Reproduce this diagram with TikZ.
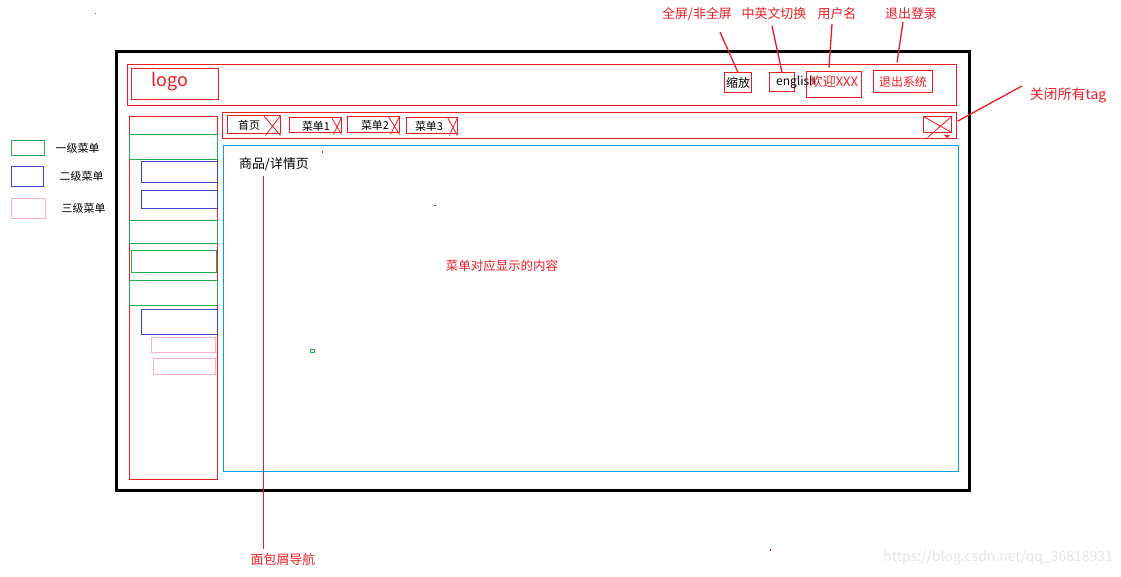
\documentclass[tikz,border=0pt]{standalone}
\usepackage{fontspec}
\setmainfont{Noto Sans CJK SC}
\usetikzlibrary{positioning}
\definecolor{pred}{HTML}{ED1C24}
\definecolor{pgreen}{HTML}{22B14C}
\definecolor{pblue}{HTML}{3F48CC}
\definecolor{ppink}{HTML}{FFAEC9}
\definecolor{pcyan}{HTML}{00A2E8}

\begin{document}
\begin{tikzpicture}[x=1bp,y=-1bp,
  box/.style={draw,anchor=north west,inner sep=0pt,outer sep=0pt,line width=1bp},
  redbox/.style={box,draw=pred},
  lvone/.style={box,draw=pgreen},
  lvtwo/.style={box,draw=pblue},
  lvthree/.style={box,draw=ppink},
  txt/.style={inner sep=0pt,font=\fontsize{12}{14}\selectfont},
  note/.style={txt,text=pred,font=\fontsize{13}{15}\selectfont},
  lead/.style={draw=pred,line width=1.3bp}]

  \useasboundingbox (0,0) rectangle (1121,577);

  % outer frame and header
  \node[box,line width=3bp,minimum width=853bp,minimum height=438bp] (frame) at (116,52) {};
  \node[redbox,minimum width=829bp,minimum height=41bp] (header) at (127.5,64.5) {};
  \node[redbox,minimum width=87bp,minimum height=31bp] (logo) at (131.5,68.5) {};
  \node[txt,text=pred,font=\fontsize{18}{20}\selectfont] (logotext) at (170,82) {logo};

  \node[redbox,minimum width=27bp,minimum height=20bp] (zoom) at (724.5,72.5) {};
  \node[txt] (zoomtext) at (zoom.center) {缩放};
  \node[redbox,minimum width=25bp,minimum height=19bp] (lang) at (769.5,72.5) {};
  \node[txt,anchor=west] (langtext) at (776,82) {english};
  \node[redbox,minimum width=55bp,minimum height=26bp] (welcome) at (806.5,71.5) {};
  \node[txt,text=pred,font=\fontsize{13}{15}\selectfont] (welcometext) at (834,82) {欢迎XXX};
  \node[redbox,minimum width=59bp,minimum height=22bp] (logout) at (873.5,70.5) {};
  \node[txt,text=pred] (logouttext) at (logout.center) {退出系统};

  % notes above the header
  \node[note] (fullscr) at (697,14) {全屏/非全屏};
  \node[note] (langsw) at (774,14) {中英文切换};
  \node[note] (user) at (837,14) {用户名};
  \node[note] (exit) at (911,14) {退出登录};
  \coordinate (fullscr-tip) at (720,32);
  \coordinate (langsw-tip) at (772,26);
  \coordinate (user-tip) at (832,24);
  \coordinate (exit-tip) at (903,22);
  \draw[lead] (fullscr-tip) -- (zoom.north);
  \draw[lead] (langsw-tip) -- (lang.north);
  \draw[lead] (user-tip) -- ([xshift=-5bp,yshift=4bp]welcome.north);
  \draw[lead] (exit-tip) -- ([xshift=-6bp,yshift=8bp]logout.north);

  % tag bar
  \node[redbox,minimum width=734bp,minimum height=26bp] (tagbar) at (222.5,112.5) {};
  \foreach \n/\x/\y/\w/\h/\t/\tx/\c in {tag0/227.5/115.5/53/18/首页/249/17,
      tag1/289.5/117.5/52/15/菜单1/316/10,
      tag2/347.5/116.5/52/16/菜单2/375/11,
      tag3/406.5/117.5/51/16/菜单3/429/10}{
    \node[redbox,minimum width=\w bp,minimum height=\h bp] (\n) at (\x,\y) {};
    \node[txt,font=\fontsize{11}{13}\selectfont] (\n-text) at (\tx,\y+\h/2+1) {\t};
    \draw[pred,line width=0.8bp] ([xshift=-\c bp]\n.north east) -- ([yshift=-2bp]\n.south east)
      (\n.north east) -- ([xshift=-\c bp+2bp,yshift=-2bp]\n.south east);
  }
  \node[redbox,minimum width=28bp,minimum height=16bp] (closeall) at (923.5,116.5) {};
  \draw[pred,line width=0.8bp] (closeall.north west) -- (closeall.south east)
    (closeall.north east) -- ([xshift=4bp,yshift=-5bp]closeall.south west);
  \fill[pred] (944,135) -- (950,135) -- (947,138) -- cycle;
  \node[note,font=\fontsize{14}{16}\selectfont] (closenote) at (1068,95) {关闭所有tag};
  \coordinate (closenote-tip) at (1022,86);
  \draw[lead,shorten <=7bp] (closeall.east) -- (closenote-tip);

  % side menu
  \node[redbox,minimum width=88bp,minimum height=363bp] (side) at (129.5,116.5) {};
  \foreach \n/\x/\y/\w/\h in {one1/129.5/134.5/88/25, one2/129.5/220.5/88/23,
      one3/131.5/250.5/85/22, one4/129.5/280.5/88/25}
    \node[lvone,minimum width=\w bp,minimum height=\h bp] (\n) at (\x,\y) {};
  \foreach \n/\x/\y/\w/\h in {two1/141.5/161.5/76/21, two2/141.5/190.5/76/18, two3/141.5/309.5/76/25}
    \node[lvtwo,minimum width=\w bp,minimum height=\h bp] (\n) at (\x,\y) {};
  \foreach \n/\x/\y/\w/\h in {three1/151.5/337.5/64/15, three2/153.5/358.5/62/16}
    \node[lvthree,minimum width=\w bp,minimum height=\h bp] (\n) at (\x,\y) {};

  % legend
  \node[lvone,minimum width=33bp,minimum height=15bp] (keyone) at (11.5,140.5) {};
  \node[txt,font=\fontsize{11}{13}\selectfont,right=11bp of keyone] (keyonetext) {一级菜单};
  \node[lvtwo,minimum width=32bp,minimum height=20bp] (keytwo) at (11.5,166.5) {};
  \node[txt,font=\fontsize{11}{13}\selectfont,right=16bp of keytwo] (keytwotext) {二级菜单};
  \node[lvthree,minimum width=34bp,minimum height=20bp] (keythree) at (11.5,198.5) {};
  \node[txt,font=\fontsize{11}{13}\selectfont,right=16bp of keythree] (keythreetext) {三级菜单};

  % content
  \node[box,draw=pcyan,minimum width=735bp,minimum height=326bp] (content) at (223.5,145.5) {};
  \node[txt,font=\fontsize{13}{15}\selectfont] (crumb) at (274,164) {商品/详情页};
  \node[note,font=\fontsize{12.5}{14}\selectfont] (body) at (502,266) {菜单对应显示的内容};
  \node[note] (crumbnote) at (283,560) {面包屑导航};
  \coordinate (crumb-tip) at (263.5,176);
  \draw[lead,shorten >=5bp] (crumb-tip) -- (crumb-tip |- crumbnote.north);

  % stray marks
  \fill[pred] (95,13) rectangle +(1.3,1.3);
  \fill[pred] (321.5,151) rectangle +(1,2);
  \fill[pred] (434,205) rectangle +(1.5,1);
  \fill[pred] (769.5,549) rectangle +(1.5,2);
  \draw[pgreen,line width=0.8bp] (310.5,349.5) rectangle +(4,3);

  \node[txt,text=black!10,font=\fontsize{14}{16}\selectfont,anchor=east] (mark) at (1113,558) {https://blog.csdn.net/qq\_36818931};
\end{tikzpicture}
\end{document}
